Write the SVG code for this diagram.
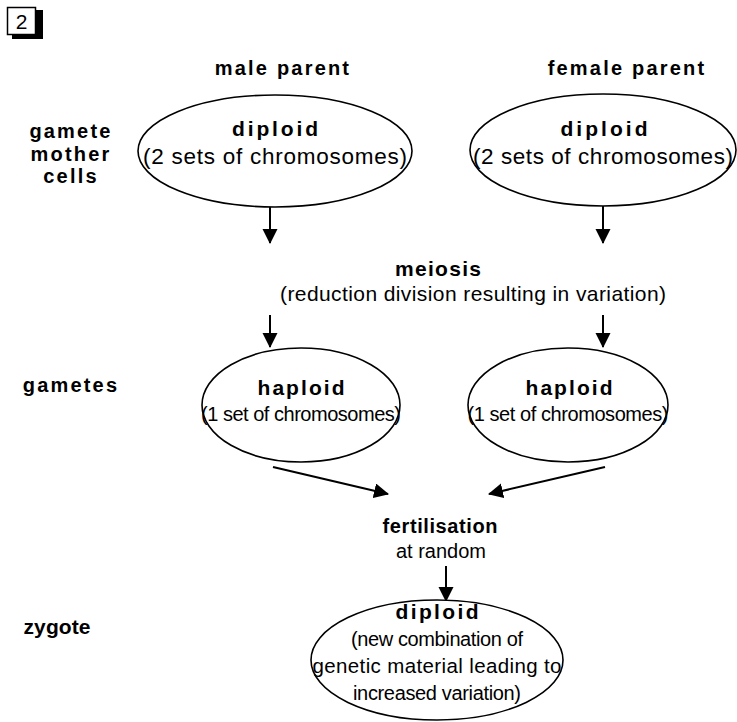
<svg xmlns="http://www.w3.org/2000/svg" width="737" height="722" viewBox="0 0 737 722">
<style>
text{font-family:"Liberation Sans",Arial,sans-serif;fill:#000;text-anchor:middle}
.b{font-weight:bold;font-size:20px;letter-spacing:2.2px}
.h{font-weight:bold;font-size:21px}
.n{font-size:20px}
.e{fill:#fff;stroke:#000;stroke-width:1.6}
.c{stroke:#000;stroke-width:2;fill:none;marker-end:url(#ah)}
</style>
<defs>
<marker id="ah" markerWidth="15" markerHeight="16" refX="14" refY="7.5" orient="auto" markerUnits="userSpaceOnUse">
<path d="M0,0 L15,7.5 L0,15 Z" fill="#000"/>
</marker>
</defs>
<rect width="737" height="722" fill="#fff"/>
<g id="badge">
<rect x="12" y="10" width="31" height="29" fill="#000"/>
<rect x="7.5" y="7.5" width="28" height="27" fill="#fff" stroke="#000" stroke-width="1.5"/>
<text x="21.5" y="29" style="font-size:21px">2</text>
</g>
<g id="labels">
<text class="b" x="283" y="75">male  parent</text>
<text class="b" x="627" y="75">female  parent</text>
<text class="b" x="71" y="138">gamete</text>
<text class="b" x="71" y="161">mother</text>
<text class="b" x="71" y="183">cells</text>
<text class="b" x="71" y="392">gametes</text>
<text class="h" x="57" y="634" textLength="67" lengthAdjust="spacing">zygote</text>
</g>
<g id="connectors">
<line class="c" x1="270" y1="207" x2="270" y2="243"/>
<line class="c" x1="603" y1="206" x2="603" y2="243"/>
<line class="c" x1="270" y1="315" x2="270" y2="347"/>
<line class="c" x1="603" y1="315" x2="603" y2="347"/>
<line class="c" x1="273" y1="467" x2="388" y2="494"/>
<line class="c" x1="605" y1="467" x2="489" y2="494"/>
<line class="c" x1="446" y1="566" x2="446" y2="601"/>
</g>
<g id="male-diploid">
<ellipse class="e" cx="275" cy="151" rx="137" ry="56"/>
<text class="h" x="275" y="136" textLength="86" lengthAdjust="spacing">diploid</text>
<text class="n" x="275" y="164" style="font-size:22.5px" textLength="264" lengthAdjust="spacing">(2 sets of chromosomes)</text>
</g>
<g id="female-diploid">
<ellipse class="e" cx="603" cy="150" rx="133" ry="56"/>
<text class="h" x="604" y="136" textLength="87" lengthAdjust="spacing">diploid</text>
<text class="n" x="603" y="164" style="font-size:22.5px" textLength="260" lengthAdjust="spacing">(2 sets of chromosomes)</text>
</g>
<g id="meiosis">
<text class="h" x="438" y="276" textLength="86" lengthAdjust="spacing">meiosis</text>
<text class="n" x="473" y="301" style="font-size:21px" textLength="386" lengthAdjust="spacing">(reduction division resulting in variation)</text>
</g>
<g id="male-haploid">
<ellipse class="e" cx="301" cy="405" rx="99" ry="57"/>
<text class="h" x="301" y="395" textLength="87" lengthAdjust="spacing">haploid</text>
<text class="n" x="301" y="421" textLength="200" lengthAdjust="spacing">(1 set of chromosomes)</text>
</g>
<g id="female-haploid">
<ellipse class="e" cx="568" cy="405" rx="100" ry="57"/>
<text class="h" x="569" y="395" textLength="87" lengthAdjust="spacing">haploid</text>
<text class="n" x="568" y="421" textLength="201" lengthAdjust="spacing">(1 set of chromosomes)</text>
</g>
<g id="fertilisation">
<text class="h" x="440" y="533" style="font-size:20px" textLength="115" lengthAdjust="spacing">fertilisation</text>
<text class="n" x="441" y="558">at random</text>
</g>
<g id="zygote">
<ellipse class="e" cx="437" cy="660" rx="126" ry="60"/>
<text class="h" x="437" y="619" textLength="83" lengthAdjust="spacing">diploid</text>
<text class="n" x="437" y="646" textLength="172" lengthAdjust="spacing">(new combination of</text>
<text class="n" x="437" y="673" style="font-size:20.5px" textLength="249" lengthAdjust="spacing">genetic material leading to</text>
<text class="n" x="437" y="700" textLength="168" lengthAdjust="spacing">increased variation)</text>
</g>
</svg>
